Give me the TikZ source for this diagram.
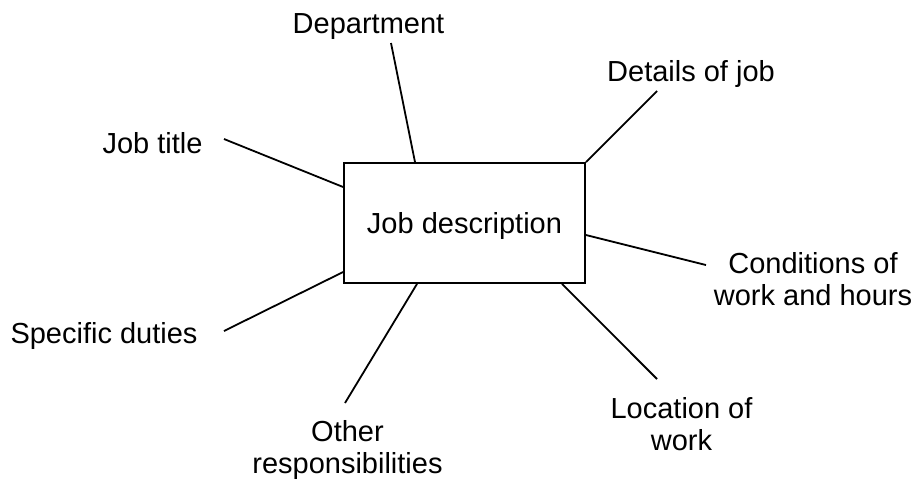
\documentclass[tikz,border=0pt]{standalone}
\usepackage{fontspec}
\setmainfont{Liberation Sans}
\usepackage{tikz}
\usetikzlibrary{positioning}

\begin{document}
\begin{tikzpicture}[x=0.5pt, y=-0.5pt, line width=0.9pt,
	label/.style={inner sep=0pt, anchor=base, align=center, font=\fontsize{14.5}{16}\selectfont},
	jobbox/.style={draw, inner sep=0pt, minimum width=120.5pt, minimum height=60pt, text depth=0pt, font=\fontsize{14.5}{16}\selectfont}]

			\useasboundingbox (0,0) rectangle (914,479);

			\node[jobbox] (box) at (464.5,223) {Job description};

			\node[label] (dept) at (368.5,33) {Department};
			\node[label] (details) at (691,81) {Details of job};
			\node[label] (title) at (152.5,153) {Job title};
			\node[label] (duties) at (104,343) {Specific duties};
			\node[label] (cond) at (813,305) {Conditions of\\work and hours};
			\node[label] (loc) at (681.5,450) {Location of\\work};
			\node[label] (other) at (347.5,473) {Other\\responsibilities};

			\coordinate (dept-end) at (391,43);
			\coordinate (details-end) at (657,91);
			\coordinate (title-end) at (224,139);
			\coordinate (duties-end) at (224,331);
			\coordinate (cond-end) at (706,265);
			\coordinate (loc-end) at (657,379);
			\coordinate (other-end) at (345,403);

			\draw (dept-end)--(415,0 |- box.north);
			\draw (details-end)--(box.north east);
			\draw (title-end)--(box.west |- 0,187);
			\draw (duties-end)--(box.west |- 0,272);
			\draw (cond-end)--(box.east |- 0,235);
			\draw (loc-end)--(562,0 |- box.south);
			\draw (other-end)--(417,0 |- box.south);

			\end{tikzpicture}
\end{document}
